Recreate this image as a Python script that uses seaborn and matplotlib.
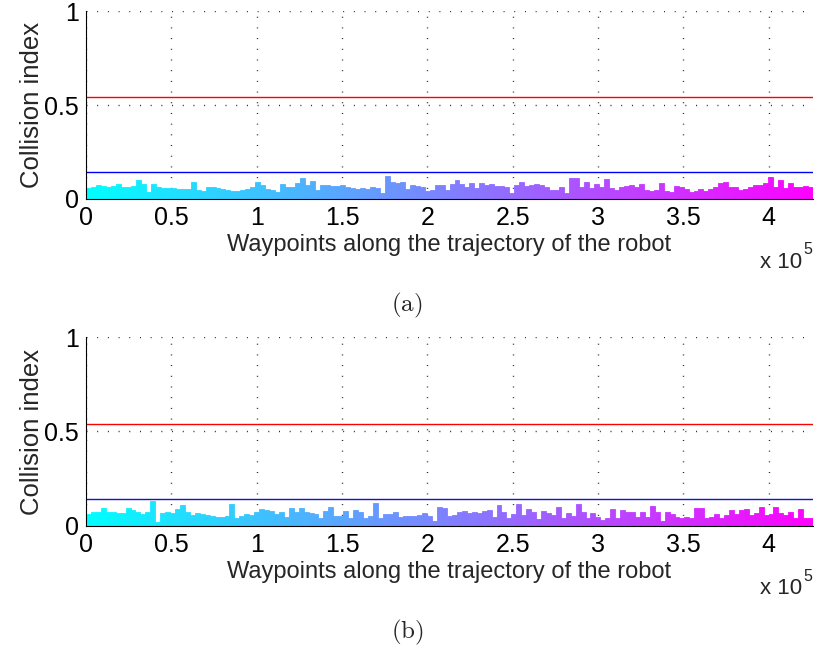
import numpy as np
import matplotlib
matplotlib.use("Agg")
import matplotlib.pyplot as plt
import seaborn as sns

# collision index per trajectory chunk
collision_a = [
    0.057, 0.066, 0.074, 0.069, 0.066, 0.071, 0.078, 0.066, 0.062, 0.069,
    0.101, 0.078, 0.037, 0.080, 0.066, 0.060, 0.059, 0.060, 0.055, 0.051,
    0.051, 0.092, 0.048, 0.041, 0.062, 0.062, 0.060, 0.055, 0.048, 0.044,
    0.043, 0.046, 0.051, 0.062, 0.092, 0.076, 0.055, 0.048, 0.039, 0.078,
    0.062, 0.062, 0.087, 0.110, 0.074, 0.098, 0.048, 0.074, 0.073, 0.069,
    0.067, 0.073, 0.062, 0.059, 0.055, 0.057, 0.051, 0.062, 0.059, 0.034,
    0.124, 0.090, 0.087, 0.089, 0.051, 0.073, 0.069, 0.066, 0.044, 0.048,
    0.073, 0.073, 0.048, 0.080,
    0.101, 0.080, 0.066, 0.083, 0.057, 0.087, 0.074, 0.080, 0.069, 0.069,
    0.066, 0.030, 0.074, 0.092, 0.069, 0.073, 0.080, 0.074, 0.062, 0.048,
    0.048, 0.066, 0.034, 0.110, 0.110, 0.066, 0.089, 0.057, 0.080, 0.066,
    0.108, 0.057, 0.048, 0.066, 0.069, 0.074, 0.066, 0.080, 0.048, 0.043,
    0.048, 0.083, 0.044, 0.039, 0.069, 0.066, 0.055, 0.039, 0.044, 0.051,
    0.044, 0.051, 0.066, 0.087, 0.092, 0.066, 0.062, 0.048, 0.051, 0.066,
    0.076, 0.074, 0.083, 0.115, 0.066, 0.101, 0.057, 0.083, 0.066, 0.066,
    0.069, 0.066,
]
collision_b = [
    0.062, 0.072, 0.076, 0.093, 0.076, 0.072, 0.067, 0.067, 0.093, 0.085,
    0.072, 0.062, 0.076, 0.132, 0.023, 0.067, 0.076, 0.067, 0.090, 0.111,
    0.076, 0.058, 0.067, 0.065, 0.058, 0.055, 0.048, 0.049, 0.051, 0.115,
    0.044, 0.055, 0.065, 0.058, 0.072, 0.090, 0.083, 0.079, 0.062, 0.076,
    0.049, 0.097, 0.072, 0.097, 0.076, 0.067, 0.062, 0.044, 0.079, 0.102,
    0.055, 0.055, 0.079, 0.041, 0.085, 0.076, 0.041, 0.055, 0.120, 0.041,
    0.062, 0.062, 0.072, 0.048, 0.055, 0.051, 0.055, 0.058, 0.067, 0.055,
    0.026, 0.102, 0.093, 0.055, 0.058,
    0.076, 0.079, 0.067, 0.072, 0.067, 0.079, 0.085, 0.049, 0.111, 0.072,
    0.041, 0.062, 0.115, 0.058, 0.090, 0.076, 0.037, 0.079, 0.067, 0.058,
    0.102, 0.044, 0.067, 0.055, 0.115, 0.076, 0.041, 0.067, 0.049, 0.032,
    0.041, 0.090, 0.041, 0.085, 0.072, 0.076, 0.049, 0.076, 0.048, 0.108,
    0.072, 0.026, 0.076, 0.062, 0.049, 0.044, 0.049, 0.044, 0.093, 0.097,
    0.041, 0.048, 0.062, 0.041, 0.058, 0.085, 0.062, 0.085, 0.090, 0.058,
    0.067, 0.102, 0.058, 0.062, 0.102, 0.067, 0.058, 0.076, 0.041, 0.090,
    0.041, 0.044,
]
thresh_high = [0.543, 0.538]
thresh_low = [0.143, 0.143]
low_colors = ["#0000ff", "#1212c8"]
n_waypoints = 426000
captions = ["(a)", "(b)"]
xticks = [0, 50000, 100000, 150000, 200000, 250000, 300000, 350000, 400000]
xticklabels = ["0", "0.5", "1", "1.5", "2", "2.5", "3", "3.5", "4"]

sns.set_style("white")
plt.rcParams["font.family"] = ["Liberation Sans", "DejaVu Sans"]
plt.rcParams["mathtext.fontset"] = "cm"

fig = plt.figure(figsize=(8.14, 6.52), dpi=100)
ax_pos = [[0.1057, 0.6948, 0.8931, 0.2883], [0.1057, 0.1933, 0.8931, 0.2898]]
cap_y = [0.531, 0.030]
exp_y = [0.598, 0.097]

for k, vals in enumerate([collision_a, collision_b]):
    ax = fig.add_axes(ax_pos[k])
    n = len(vals)
    step = n_waypoints / n
    xs = np.arange(n) * step
    cols = sns.color_palette("cool", n)
    ax.bar(xs, vals, width=step, align="edge", color=cols, edgecolor=cols, linewidth=0.6, zorder=2)

    ax.axhline(thresh_high[k], color="#ff0000", lw=1.0, zorder=3)
    ax.axhline(thresh_low[k], color=low_colors[k], lw=1.0, zorder=3)

    ax.set_xlim(0, n_waypoints)
    ax.set_ylim(0, 1)
    ax.set_xticks(xticks)
    ax.set_xticklabels(xticklabels)
    ax.set_yticks([0, 0.5, 1])
    ax.set_yticklabels(["0", "0.5", "1"])
    ax.tick_params(direction="in", length=4, width=0.8, labelsize=18, pad=5, colors="black")
    ax.grid(True, color="#222222", lw=1.0, linestyle=(0, (0.7, 7.0)))
    ax.set_axisbelow(True)
    for s in ["top", "right"]:
        ax.spines[s].set_visible(False)
    ax.spines["left"].set_color("black")
    ax.spines["bottom"].set_color("black")
    ax.spines["left"].set_zorder(4)

    ax.set_xlabel("Waypoints along the trajectory of the robot", fontsize=17, labelpad=3)
    ax.set_ylabel("Collision index", fontsize=18.5, labelpad=0)

    fig.text(0.934, exp_y[k], "x 10", fontsize=16, ha="left", va="center")
    fig.text(0.987, exp_y[k] + 0.019, "5", fontsize=11.5, ha="left", va="center")
    fig.text(0.5, cap_y[k], r"$\mathrm{" + captions[k] + "}$", fontsize=18, ha="center", va="center")

fig.savefig("out.png", dpi=100)
